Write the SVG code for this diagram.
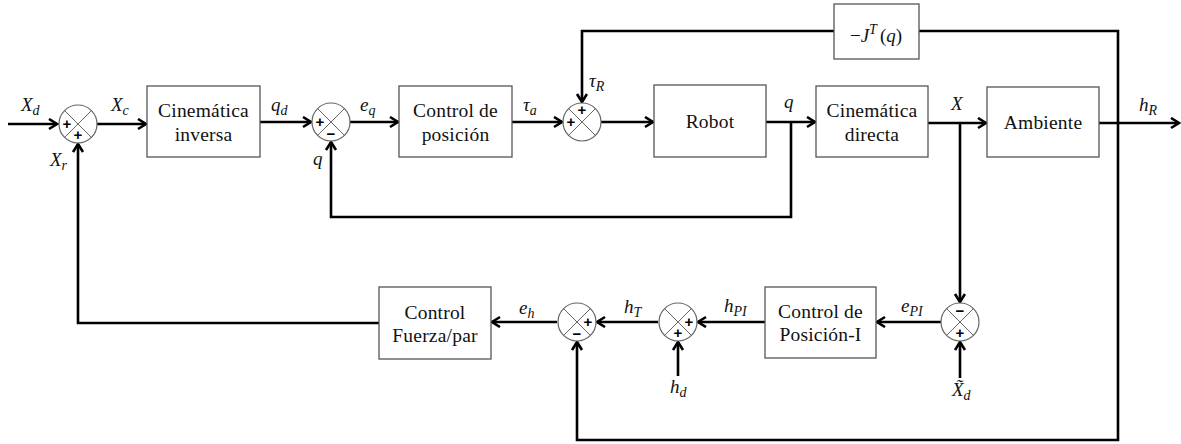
<svg xmlns="http://www.w3.org/2000/svg" width="1181" height="444" viewBox="0 0 1181 444">
  <style>
    .blk { fill: #ffffff; stroke: #555555; stroke-width: 1.3; }
    .sum { fill: #ffffff; stroke: #666666; stroke-width: 1.2; }
    .x { stroke: #666666; stroke-width: 1; }
    .wire { fill: none; stroke: #000000; stroke-width: 2.6; stroke-linejoin: miter; }
    .lbl { font-family: "Liberation Serif", serif; font-size: 19.5px; fill: #111111; text-anchor: middle; letter-spacing: 0.2px; }
    .mth { font-family: "Liberation Serif", serif; font-style: italic; font-size: 19px; fill: #111111; }
    .sub { font-size: 14px; }
    .sg { font-family: "Liberation Sans", sans-serif; font-weight: bold; font-size: 15px; fill: #000000; text-anchor: middle; }
  </style>
  <defs>
    <marker id="arr" markerUnits="userSpaceOnUse" markerWidth="14" markerHeight="14" refX="10" refY="6" orient="auto">
      <path d="M2,1 L10,6 L2,11" fill="none" stroke="#000000" stroke-width="2.6"/>
    </marker>
    <g id="sj">
      <circle class="sum" cx="0" cy="0" r="19"/>
      <line class="x" x1="-13.4" y1="-13.4" x2="13.4" y2="13.4"/>
      <line class="x" x1="-13.4" y1="13.4" x2="13.4" y2="-13.4"/>
    </g>
  </defs>

  <!-- signal lines -->
  <g id="connectors">
    <path class="wire" d="M8,124 H57" marker-end="url(#arr)"/>
    <path class="wire" d="M97,124 H146" marker-end="url(#arr)"/>
    <path class="wire" d="M260,122 H311" marker-end="url(#arr)"/>
    <path class="wire" d="M350,122 H398" marker-end="url(#arr)"/>
    <path class="wire" d="M512,122 H562" marker-end="url(#arr)"/>
    <path class="wire" d="M601,122 H653" marker-end="url(#arr)"/>
    <path class="wire" d="M766,122 H815" marker-end="url(#arr)"/>
    <path class="wire" d="M928,123 H986" marker-end="url(#arr)"/>
    <path class="wire" d="M1099,123 H1179" marker-end="url(#arr)"/>
    <path class="wire" d="M791,122 V217 H331 V142" marker-end="url(#arr)"/>
    <path class="wire" d="M834,31 H582 V102" marker-end="url(#arr)"/>
    <path class="wire" d="M919,31 H1118 V440 H577 V342" marker-end="url(#arr)"/>
    <path class="wire" d="M960,123 V302" marker-end="url(#arr)"/>
    <path class="wire" d="M960,378 V342" marker-end="url(#arr)"/>
    <path class="wire" d="M941,322 H877" marker-end="url(#arr)"/>
    <path class="wire" d="M765,322 H698" marker-end="url(#arr)"/>
    <path class="wire" d="M678,376 V342" marker-end="url(#arr)"/>
    <path class="wire" d="M658,322 H597" marker-end="url(#arr)"/>
    <path class="wire" d="M557,322 H492" marker-end="url(#arr)"/>
    <path class="wire" d="M379,323 H78 V144" marker-end="url(#arr)"/>
  </g>

  <!-- summing junctions -->
  <g id="sum-xc">
    <use href="#sj" x="78" y="124"/>
    <text class="sg" x="67" y="129">+</text>
    <text class="sg" x="78" y="140">+</text>
  </g>
  <g id="sum-eq">
    <use href="#sj" x="331" y="122"/>
    <text class="sg" x="320" y="127">+</text>
    <text class="sg" x="331" y="139">−</text>
  </g>
  <g id="sum-tau">
    <use href="#sj" x="582" y="122"/>
    <text class="sg" x="582" y="115">+</text>
    <text class="sg" x="571" y="127">+</text>
  </g>
  <g id="sum-eh">
    <use href="#sj" x="577" y="322"/>
    <text class="sg" x="588" y="327">+</text>
    <text class="sg" x="577" y="339">−</text>
  </g>
  <g id="sum-ht">
    <use href="#sj" x="678" y="322"/>
    <text class="sg" x="689" y="327">+</text>
    <text class="sg" x="678" y="338">+</text>
  </g>
  <g id="sum-epi">
    <use href="#sj" x="960" y="322"/>
    <text class="sg" x="960" y="316">−</text>
    <text class="sg" x="960" y="338">+</text>
  </g>

  <!-- blocks -->
  <g id="cin-inversa">
    <rect class="blk" x="147" y="86" width="113" height="71"/>
    <text class="lbl" x="203.5" y="117">Cinemática</text>
    <text class="lbl" x="203.5" y="141">inversa</text>
  </g>
  <g id="control-posicion">
    <rect class="blk" x="399" y="86" width="113" height="71"/>
    <text class="lbl" x="455.5" y="117">Control de</text>
    <text class="lbl" x="455.5" y="141">posición</text>
  </g>
  <g id="robot">
    <rect class="blk" x="654" y="85" width="112" height="72"/>
    <text class="lbl" x="710" y="128">Robot</text>
  </g>
  <g id="cin-directa">
    <rect class="blk" x="816" y="86" width="112" height="71"/>
    <text class="lbl" x="872" y="117">Cinemática</text>
    <text class="lbl" x="872" y="141">directa</text>
  </g>
  <g id="ambiente">
    <rect class="blk" x="987" y="87" width="112" height="70"/>
    <text class="lbl" x="1043" y="129">Ambiente</text>
  </g>
  <g id="jacobiana">
    <rect class="blk" x="834" y="4" width="85" height="55"/>
    <text class="mth" x="876" y="42" text-anchor="middle" font-size="20"><tspan font-style="normal">−</tspan>J<tspan class="sub" dy="-8">T</tspan><tspan dy="8" dx="3" font-style="normal">(</tspan>q<tspan font-style="normal">)</tspan></text>
  </g>
  <g id="control-fuerza">
    <rect class="blk" x="379" y="287" width="112" height="72"/>
    <text class="lbl" x="435" y="319">Control</text>
    <text class="lbl" x="435" y="342">Fuerza/par</text>
  </g>
  <g id="control-posicion-i">
    <rect class="blk" x="765" y="287" width="111" height="71"/>
    <text class="lbl" x="820.5" y="318">Control de</text>
    <text class="lbl" x="820.5" y="341">Posición-I</text>
  </g>

  <!-- signal names -->
  <g id="labels">
    <text class="mth" x="21" y="111">X<tspan class="sub" dy="4">d</tspan></text>
    <text class="mth" x="111" y="111">X<tspan class="sub" dy="4">c</tspan></text>
    <text class="mth" x="50" y="166">X<tspan class="sub" dy="4">r</tspan></text>
    <text class="mth" x="271" y="111">q<tspan class="sub" dy="4">d</tspan></text>
    <text class="mth" x="313" y="165">q</text>
    <text class="mth" x="360" y="111">e<tspan class="sub" dy="4">q</tspan></text>
    <text class="mth" x="523" y="111">τ<tspan class="sub" dy="4">a</tspan></text>
    <text class="mth" x="589" y="87">τ<tspan class="sub" dy="4">R</tspan></text>
    <text class="mth" x="784" y="108">q</text>
    <text class="mth" x="951" y="110">X</text>
    <text class="mth" x="1139" y="111">h<tspan class="sub" dy="4">R</tspan></text>
    <text class="mth" x="519" y="314">e<tspan class="sub" dy="4">h</tspan></text>
    <text class="mth" x="624" y="313">h<tspan class="sub" dy="4">T</tspan></text>
    <text class="mth" x="724" y="312">h<tspan class="sub" dy="4">PI</tspan></text>
    <text class="mth" x="901" y="312">e<tspan class="sub" dy="4">PI</tspan></text>
    <text class="mth" x="670" y="393">h<tspan class="sub" dy="4">d</tspan></text>
    <text class="mth" x="952" y="396">X̃<tspan class="sub" dy="4">d</tspan></text>
  </g>
</svg>
